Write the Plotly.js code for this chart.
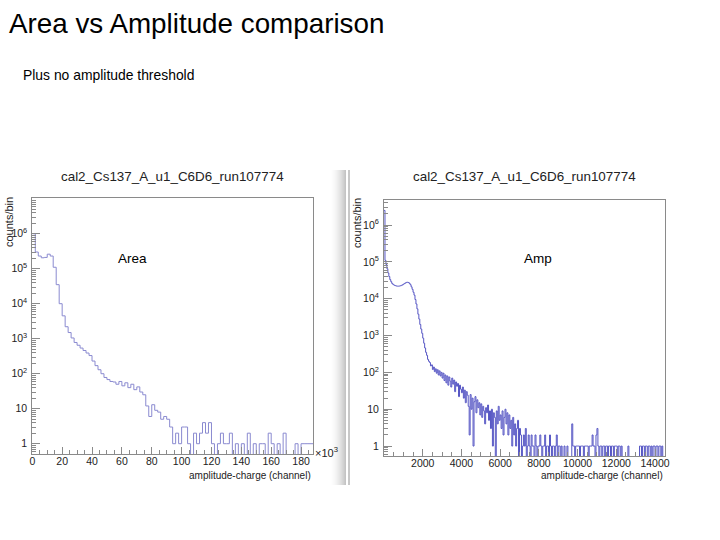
<!DOCTYPE html>
<html>
<head>
<meta charset="utf-8">
<script src="https://cdn.plot.ly/plotly-3.0.1.min.js"></script>
<style>html,body{margin:0;padding:0;background:#fff;}#chart{width:720px;height:540px;}</style>
</head>
<body>
<div id="chart"></div>
<script>
// ---------------- data ----------------
const slideTitle = "Area vs Amplitude comparison";
const slideSubtitle = "Plus no amplitude threshold";
const histTitle = "cal2_Cs137_A_u1_C6D6_run107774";
const xAxisTitle = "amplitude-charge (channel)";
const yAxisTitle = "counts/bin";

// Area histogram: bins of 2 (x10^3 channels) from 0 to 188
const areaBinStart = 0;
const areaBinWidth = 2;
const areaCounts = [
  1000000, 300000, 230000, 205000, 210000, 260000, 230000, 110000, 35000, 10000,
  4500, 2200, 1500, 1050, 780, 650, 540, 460, 390, 330,
  230, 170, 130, 100, 78, 68, 60, 58, 50, 60,
  45, 55, 40, 50, 35, 42, 30, 25, 12, 6,
  13, 9, 8, 5, 6, 5, 3, 1, 2, 1,
  3, 3, 1, 0, 2, 1, 2, 4, 2, 4,
  1, 0, 1, 2, 1, 1, 2, 0, 1, 0,
  1, 0, 2, 0, 1, 0, 1, 1, 0, 2,
  1, 0, 1, 0, 2, 0, 0, 0, 1, 0,
  1, 1, 1, 1
];

// Amp histogram: bins of 50 channels from 0 to 14500
const ampBinStart = 0;
const ampBinWidth = 50;
const ampCounts = [
  2500000, 110000, 85000, 65000, 50000, 40000, 33000, 29000, 26000, 24500, 23500, 22800, 22300, 22000, 21900, 22000, 22200, 22600, 23200, 24000,
  25000, 26000, 27000, 27800, 28000, 27500, 26000, 24000, 21000, 18000, 15000, 12500, 9500, 7200, 5300, 3800, 2800, 2000, 1500, 1150,
  850, 620, 460, 350, 290, 225, 200, 185, 150, 160, 120, 140, 105, 125, 95, 118, 85, 110, 80, 100,
  70, 95, 60, 85, 52, 80, 45, 75, 58, 40, 70, 48, 62, 30, 55, 42, 50, 22, 45, 35,
  28, 40, 20, 33, 15, 30, 24, 12, 2, 25, 10, 20, 1, 16, 22, 8, 18, 11, 15, 7,
  14, 6, 12, 9, 4, 11, 8, 13, 5, 9, 3, 10, 1, 8, 6, 0, 9, 4, 12, 5,
  7, 3, 9, 2, 6, 10, 4, 8, 2, 7, 3, 5, 1, 6, 2, 4, 1, 3, 5, 0,
  3, 2, 0, 1, 2, 1, 3, 0, 1, 2, 1, 0, 2, 1, 1, 0, 2, 1, 0, 1,
  1, 2, 1, 0, 1, 1, 2, 0, 1, 1, 0, 2, 1, 0, 1, 1, 0, 1, 2, 0,
  1, 1, 0, 1, 0, 0, 1, 0, 0, 1, 0, 0, 0, 0, 4, 1, 1, 0, 1, 1,
  1, 1, 0, 1, 1, 1, 0, 1, 1, 1, 1, 0, 1, 1, 1, 2, 1, 1, 0, 2,
  3, 1, 0, 1, 1, 0, 1, 1, 0, 1, 1, 0, 1, 1, 0, 1, 1, 0, 1, 1,
  1, 0, 1, 1, 0, 1, 0, 0, 0, 0, 0, 0, 1, 0, 0, 0, 0, 0, 0, 0,
  0, 0, 0, 0, 1, 1, 0, 1, 1, 0, 1, 1, 0, 1, 1, 0, 1, 0, 1, 1,
  0, 1, 1, 0, 1, 1, 0, 1, 0, 0
];

const areaXTicks = [0, 20, 40, 60, 80, 100, 120, 140, 160, 180];
const ampXTicks = [2000, 4000, 6000, 8000, 10000, 12000, 14000];
const ampXTickText = ["2000", "4000", "6000", "8000", "10000", "12000", "14000"];
const yTickVals = [1, 10, 100, 1000, 10000, 100000, 1000000];
const yTickText = ["1", "10", "10<sup>2</sup>", "10<sup>3</sup>", "10<sup>4</sup>", "10<sup>5</sup>", "10<sup>6</sup>"];
const yMinorMantissas = [2, 3, 4, 5, 6, 7, 8, 9];

// ---------------- helpers ----------------
function stepTrace(start, width, counts) {
  const xs = [], ys = [];
  const floor = 1e-3; // empty bins drop below the frame, like ROOT
  for (let i = 0; i < counts.length; i++) {
    xs.push(start + i * width);
    ys.push(counts[i] > 0 ? counts[i] : floor);
  }
  xs.push(start + counts.length * width);
  ys.push(counts[counts.length - 1] > 0 ? counts[counts.length - 1] : floor);
  return {xs, ys};
}
const yMinorTicks = [];
[0.1].concat(yTickVals).forEach(d => yMinorMantissas.forEach(m => yMinorTicks.push(m * d)));

const W = 720, H = 540;
const px = v => v / W;
const py = v => 1 - v / H;

const a = stepTrace(areaBinStart, areaBinWidth, areaCounts);
const b = stepTrace(ampBinStart, ampBinWidth, ampCounts);

const traces = [
  {x: a.xs, y: a.ys, type: 'scatter', mode: 'lines', line: {shape: 'hv', color: '#8a8ad0', width: 1}, xaxis: 'x', yaxis: 'y', hoverinfo: 'skip'},
  {x: b.xs, y: b.ys, type: 'scatter', mode: 'lines', line: {shape: 'hv', color: '#5656c4', width: 1}, xaxis: 'x2', yaxis: 'y2', hoverinfo: 'skip'}
];

const font = "Liberation Sans, Arial, Helvetica, sans-serif";
const axisCommon = {
  showline: true, linecolor: '#8a8a8a', linewidth: 1, mirror: true,
  ticks: 'inside', tickcolor: '#8a8a8a', showgrid: false, zeroline: false,
  tickfont: {family: font, size: 10.5, color: '#222'}
};
const yMinor = {ticks: 'inside', ticklen: 4, tickcolor: '#8a8a8a', tickmode: 'array', tickvals: yMinorTicks, showgrid: false};

const layout = {
  width: W, height: H,
  margin: {l: 0, r: 0, t: 0, b: 0},
  paper_bgcolor: '#fff', plot_bgcolor: '#fff',
  showlegend: false,
  font: {family: font},
  xaxis: Object.assign({}, axisCommon, {
    domain: [px(32.3), px(313)], range: [0, 188], anchor: 'y',
    tickmode: 'array', tickvals: areaXTicks, ticklen: 7, ticklabelstandoff: -3,
    minor: {ticks: 'inside', ticklen: 4, dtick: 5, tickcolor: '#8a8a8a'}
  }),
  yaxis: Object.assign({}, axisCommon, {
    domain: [py(454), py(198)], type: 'log', range: [-0.294, 7.02], anchor: 'x',
    tickmode: 'array', tickvals: yTickVals, ticktext: yTickText, ticklen: 8, ticklabelstandoff: 2,
    minor: yMinor
  }),
  xaxis2: Object.assign({}, axisCommon, {
    domain: [px(384), px(664.7)], range: [0, 14500], anchor: 'y2',
    tickmode: 'array', tickvals: ampXTicks, ticktext: ampXTickText, ticklen: 7, ticklabelstandoff: -3,
    minor: {ticks: 'inside', ticklen: 4, dtick: 500, tickcolor: '#8a8a8a'}
  }),
  yaxis2: Object.assign({}, axisCommon, {
    domain: [py(456), py(200)], type: 'log', range: [-0.27, 6.68], anchor: 'x2',
    tickmode: 'array', tickvals: yTickVals, ticktext: yTickText, ticklen: 8, ticklabelstandoff: 2,
    minor: yMinor
  }),
  shapes: [],
  annotations: [
    {text: slideTitle, xref: 'paper', yref: 'paper', x: px(7), y: py(24), xanchor: 'left', yanchor: 'middle', showarrow: false, font: {family: font, size: 27.8, color: '#000'}},
    {text: slideSubtitle, xref: 'paper', yref: 'paper', x: px(21), y: py(75), xanchor: 'left', yanchor: 'middle', showarrow: false, font: {family: font, size: 13.9, color: '#000'}},
    {text: histTitle, xref: 'paper', yref: 'paper', x: px(172), y: py(176), xanchor: 'center', yanchor: 'middle', showarrow: false, font: {family: font, size: 13.4, color: '#222'}},
    {text: histTitle, xref: 'paper', yref: 'paper', x: px(524), y: py(176), xanchor: 'center', yanchor: 'middle', showarrow: false, font: {family: font, size: 13.4, color: '#222'}},
    {text: yAxisTitle, xref: 'paper', yref: 'paper', x: px(9), y: py(222), xanchor: 'center', yanchor: 'middle', textangle: -90, showarrow: false, font: {family: font, size: 11, color: '#222'}},
    {text: yAxisTitle, xref: 'paper', yref: 'paper', x: px(357), y: py(223), xanchor: 'center', yanchor: 'middle', textangle: -90, showarrow: false, font: {family: font, size: 11, color: '#222'}},
    {text: xAxisTitle, xref: 'paper', yref: 'paper', x: px(313), y: py(475), xanchor: 'right', yanchor: 'middle', showarrow: false, font: {family: font, size: 10, color: '#222'}},
    {text: xAxisTitle, xref: 'paper', yref: 'paper', x: px(665), y: py(475), xanchor: 'right', yanchor: 'middle', showarrow: false, font: {family: font, size: 10, color: '#222'}},
    {text: "\u00d710<sup>3</sup>", xref: 'paper', yref: 'paper', x: px(313), y: py(452), xanchor: 'left', yanchor: 'middle', showarrow: false, font: {family: font, size: 11, color: '#222'}},
    {text: "Area", xref: 'paper', yref: 'paper', x: px(116), y: py(258), xanchor: 'left', yanchor: 'middle', showarrow: false, font: {family: font, size: 13.5, color: '#000'}},
    {text: "Amp", xref: 'paper', yref: 'paper', x: px(522), y: py(258), xanchor: 'left', yanchor: 'middle', showarrow: false, font: {family: font, size: 13.5, color: '#000'}}
  ]
};

// decorative gray gradient at the edge of the left screenshot and the border of the right one
const gradSteps = 16;
for (let i = 0; i < gradSteps; i++) {
  const g = Math.round(255 - (255 - 196) * Math.pow((i + 1) / gradSteps, 1.8));
  layout.shapes.push({type: 'rect', xref: 'paper', yref: 'paper', layer: 'below',
    x0: px(330 + i), x1: px(331 + i), y0: py(485), y1: py(170),
    line: {width: 0}, fillcolor: `rgb(${g},${g},${g})`});
}
layout.shapes.push({type: 'rect', xref: 'paper', yref: 'paper', layer: 'below',
  x0: px(348), x1: px(350), y0: py(485), y1: py(170), line: {width: 0}, fillcolor: '#c8c8c8'});

Plotly.newPlot('chart', traces, layout, {staticPlot: true, displayModeBar: false});
</script>
</body>
</html>
